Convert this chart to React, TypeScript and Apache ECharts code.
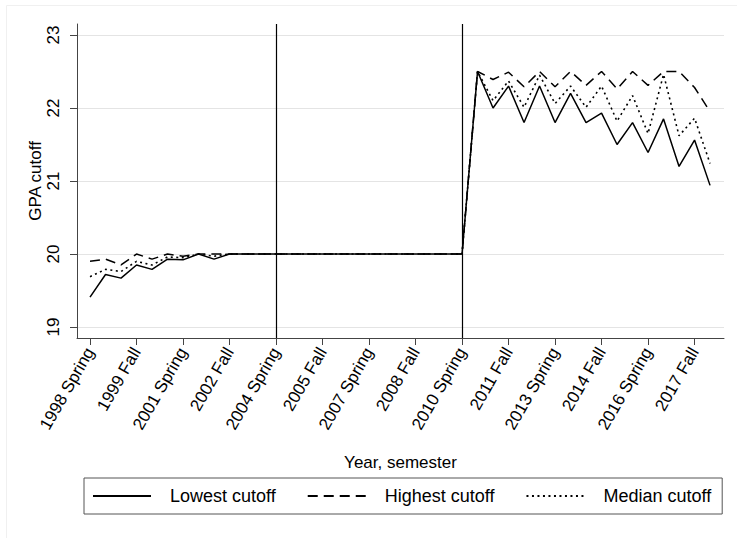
import React, { useEffect, useRef } from "react";
import * as echarts from "echarts";

const semesters: string[] = [];
for (let y = 1998; y <= 2018; y++) {
  semesters.push(`${y} Spring`);
  if (y < 2018) semesters.push(`${y} Fall`);
}

const tickIndices = [0, 3, 6, 9, 12, 15, 18, 21, 24, 27, 30, 33, 36, 39];
const yTicks = [19, 20, 21, 22, 23];
const reformMarks = [12, 24];

const lowest = [
  19.41, 19.72, 19.67, 19.85, 19.79, 19.93, 19.92, 20.0, 19.93, 20.0,
  20, 20, 20, 20, 20, 20, 20, 20, 20, 20, 20, 20, 20, 20, 20,
  22.5, 22.0, 22.3, 21.8, 22.3, 21.8, 22.2, 21.8, 21.93, 21.5,
  21.8, 21.39, 21.85, 21.2, 21.56, 20.94,
];
const highest = [
  19.9, 19.93, 19.85, 20.0, 19.93, 20.0, 19.97, 20.0, 20.0, 20.0,
  20, 20, 20, 20, 20, 20, 20, 20, 20, 20, 20, 20, 20, 20, 20,
  22.5, 22.39, 22.49, 22.29, 22.5, 22.29, 22.5, 22.31, 22.5, 22.26,
  22.5, 22.31, 22.5, 22.5, 22.28, 21.95,
];
const median = [
  19.69, 19.79, 19.76, 19.9, 19.85, 19.96, 19.95, 20.0, 19.97, 20.0,
  20, 20, 20, 20, 20, 20, 20, 20, 20, 20, 20, 20, 20, 20, 20,
  22.5, 22.1, 22.37, 22.01, 22.45, 22.06, 22.3, 22.01, 22.3, 21.82,
  22.17, 21.65, 22.46, 21.62, 21.86, 21.24,
];

const FONT = '"Liberation Sans", Arial, sans-serif';
const AXIS = "#444";

export default function App() {
  const ref = useRef<HTMLDivElement>(null);
  useEffect(() => {
    if (!ref.current) return;
    const chart = echarts.init(ref.current, undefined, { renderer: "svg" });
    const toPts = (arr: number[]) => arr.map((v, i) => [i, v]);
    chart.setOption({
      animation: false,
      backgroundColor: "#fff",
      textStyle: { fontFamily: FONT, color: "#000" },
      grid: { left: 77, right: 13, top: 24, bottom: 200, containLabel: false },
      graphic: [
        { type: "line", shape: { x1: 6.5, y1: 5.5, x2: 737, y2: 5.5 }, style: { stroke: "#f0f0f0", lineWidth: 1 }, silent: true },
        { type: "line", shape: { x1: 6.5, y1: 5.5, x2: 6.5, y2: 538 }, style: { stroke: "#f0f0f0", lineWidth: 1 }, silent: true },
      ],
      xAxis: {
        type: "value",
        min: -0.84,
        max: 40.9,
        name: "Year, semester",
        nameLocation: "middle",
        nameGap: 116,
        nameMoveOverlap: false,
        nameTextStyle: { fontSize: 17, color: "#000", fontFamily: FONT },
        axisLine: { show: true, onZero: false, lineStyle: { color: AXIS, width: 1 } },
        axisTick: { show: true, length: 7, customValues: tickIndices, lineStyle: { color: AXIS } },
        axisLabel: {
          customValues: tickIndices,
          rotate: 60,
          margin: 11,
          fontSize: 17,
          color: "#000",
          fontFamily: FONT,
          formatter: (v: number) => semesters[Math.round(v)] ?? "",
        },
        splitLine: { show: false },
      },
      yAxis: {
        type: "value",
        min: 18.85,
        max: 23.15,
        name: "GPA cutoff",
        nameLocation: "middle",
        nameGap: 33,
        nameMoveOverlap: false,
        nameRotate: 90,
        nameTextStyle: { fontSize: 17, color: "#000", fontFamily: FONT },
        axisLine: { show: true, onZero: false, lineStyle: { color: AXIS, width: 1 } },
        axisTick: { show: true, length: 7, customValues: yTicks, lineStyle: { color: AXIS } },
        axisLabel: {
          customValues: yTicks,
          rotate: 90,
          margin: 15,
          fontSize: 17,
          color: "#000",
          fontFamily: FONT,
        },
        splitLine: { show: true, lineStyle: { color: "#e4e4e4", width: 1 } },
      },
      legend: {
        data: ["Lowest cutoff", "Highest cutoff", "Median cutoff"],
        left: 84,
        top: 478,
        orient: "horizontal",
        padding: [9, 11, 9, 8],
        borderColor: "#555",
        borderWidth: 1,
        itemWidth: 58,
        itemHeight: 14,
        itemGap: 31,
        itemStyle: { opacity: 0 },
        textStyle: { fontSize: 18, color: "#000", fontFamily: FONT, padding: [0, 0, 0, 14] },
      },
      series: [
        {
          name: "Lowest cutoff",
          type: "line",
          data: toPts(lowest),
          symbol: "none",
          z: 3,
          lineStyle: { color: "#000", width: 1.5, type: "solid" },
          itemStyle: { color: "#000" },
          markLine: {
            silent: true,
            symbol: "none",
            label: { show: false },
            lineStyle: { color: "#000", width: 1.2, type: "solid" },
            data: reformMarks.map((v) => ({ xAxis: v })),
          },
        },
        {
          name: "Highest cutoff",
          type: "line",
          data: toPts(highest),
          symbol: "none",
          z: 3,
          lineStyle: { color: "#000", width: 1.5, type: [10, 6] },
          itemStyle: { color: "#000" },
        },
        {
          name: "Median cutoff",
          type: "line",
          data: toPts(median),
          symbol: "none",
          z: 3,
          lineStyle: { color: "#000", width: 1.6, type: [2, 3.5] },
          itemStyle: { color: "#000" },
        },
      ],
    });
    return () => chart.dispose();
  }, []);
  return (
    <div
      ref={ref}
      style={{ position: "fixed", left: 0, top: 0, width: 737, height: 538, background: "#fff" }}
    />
  );
}
